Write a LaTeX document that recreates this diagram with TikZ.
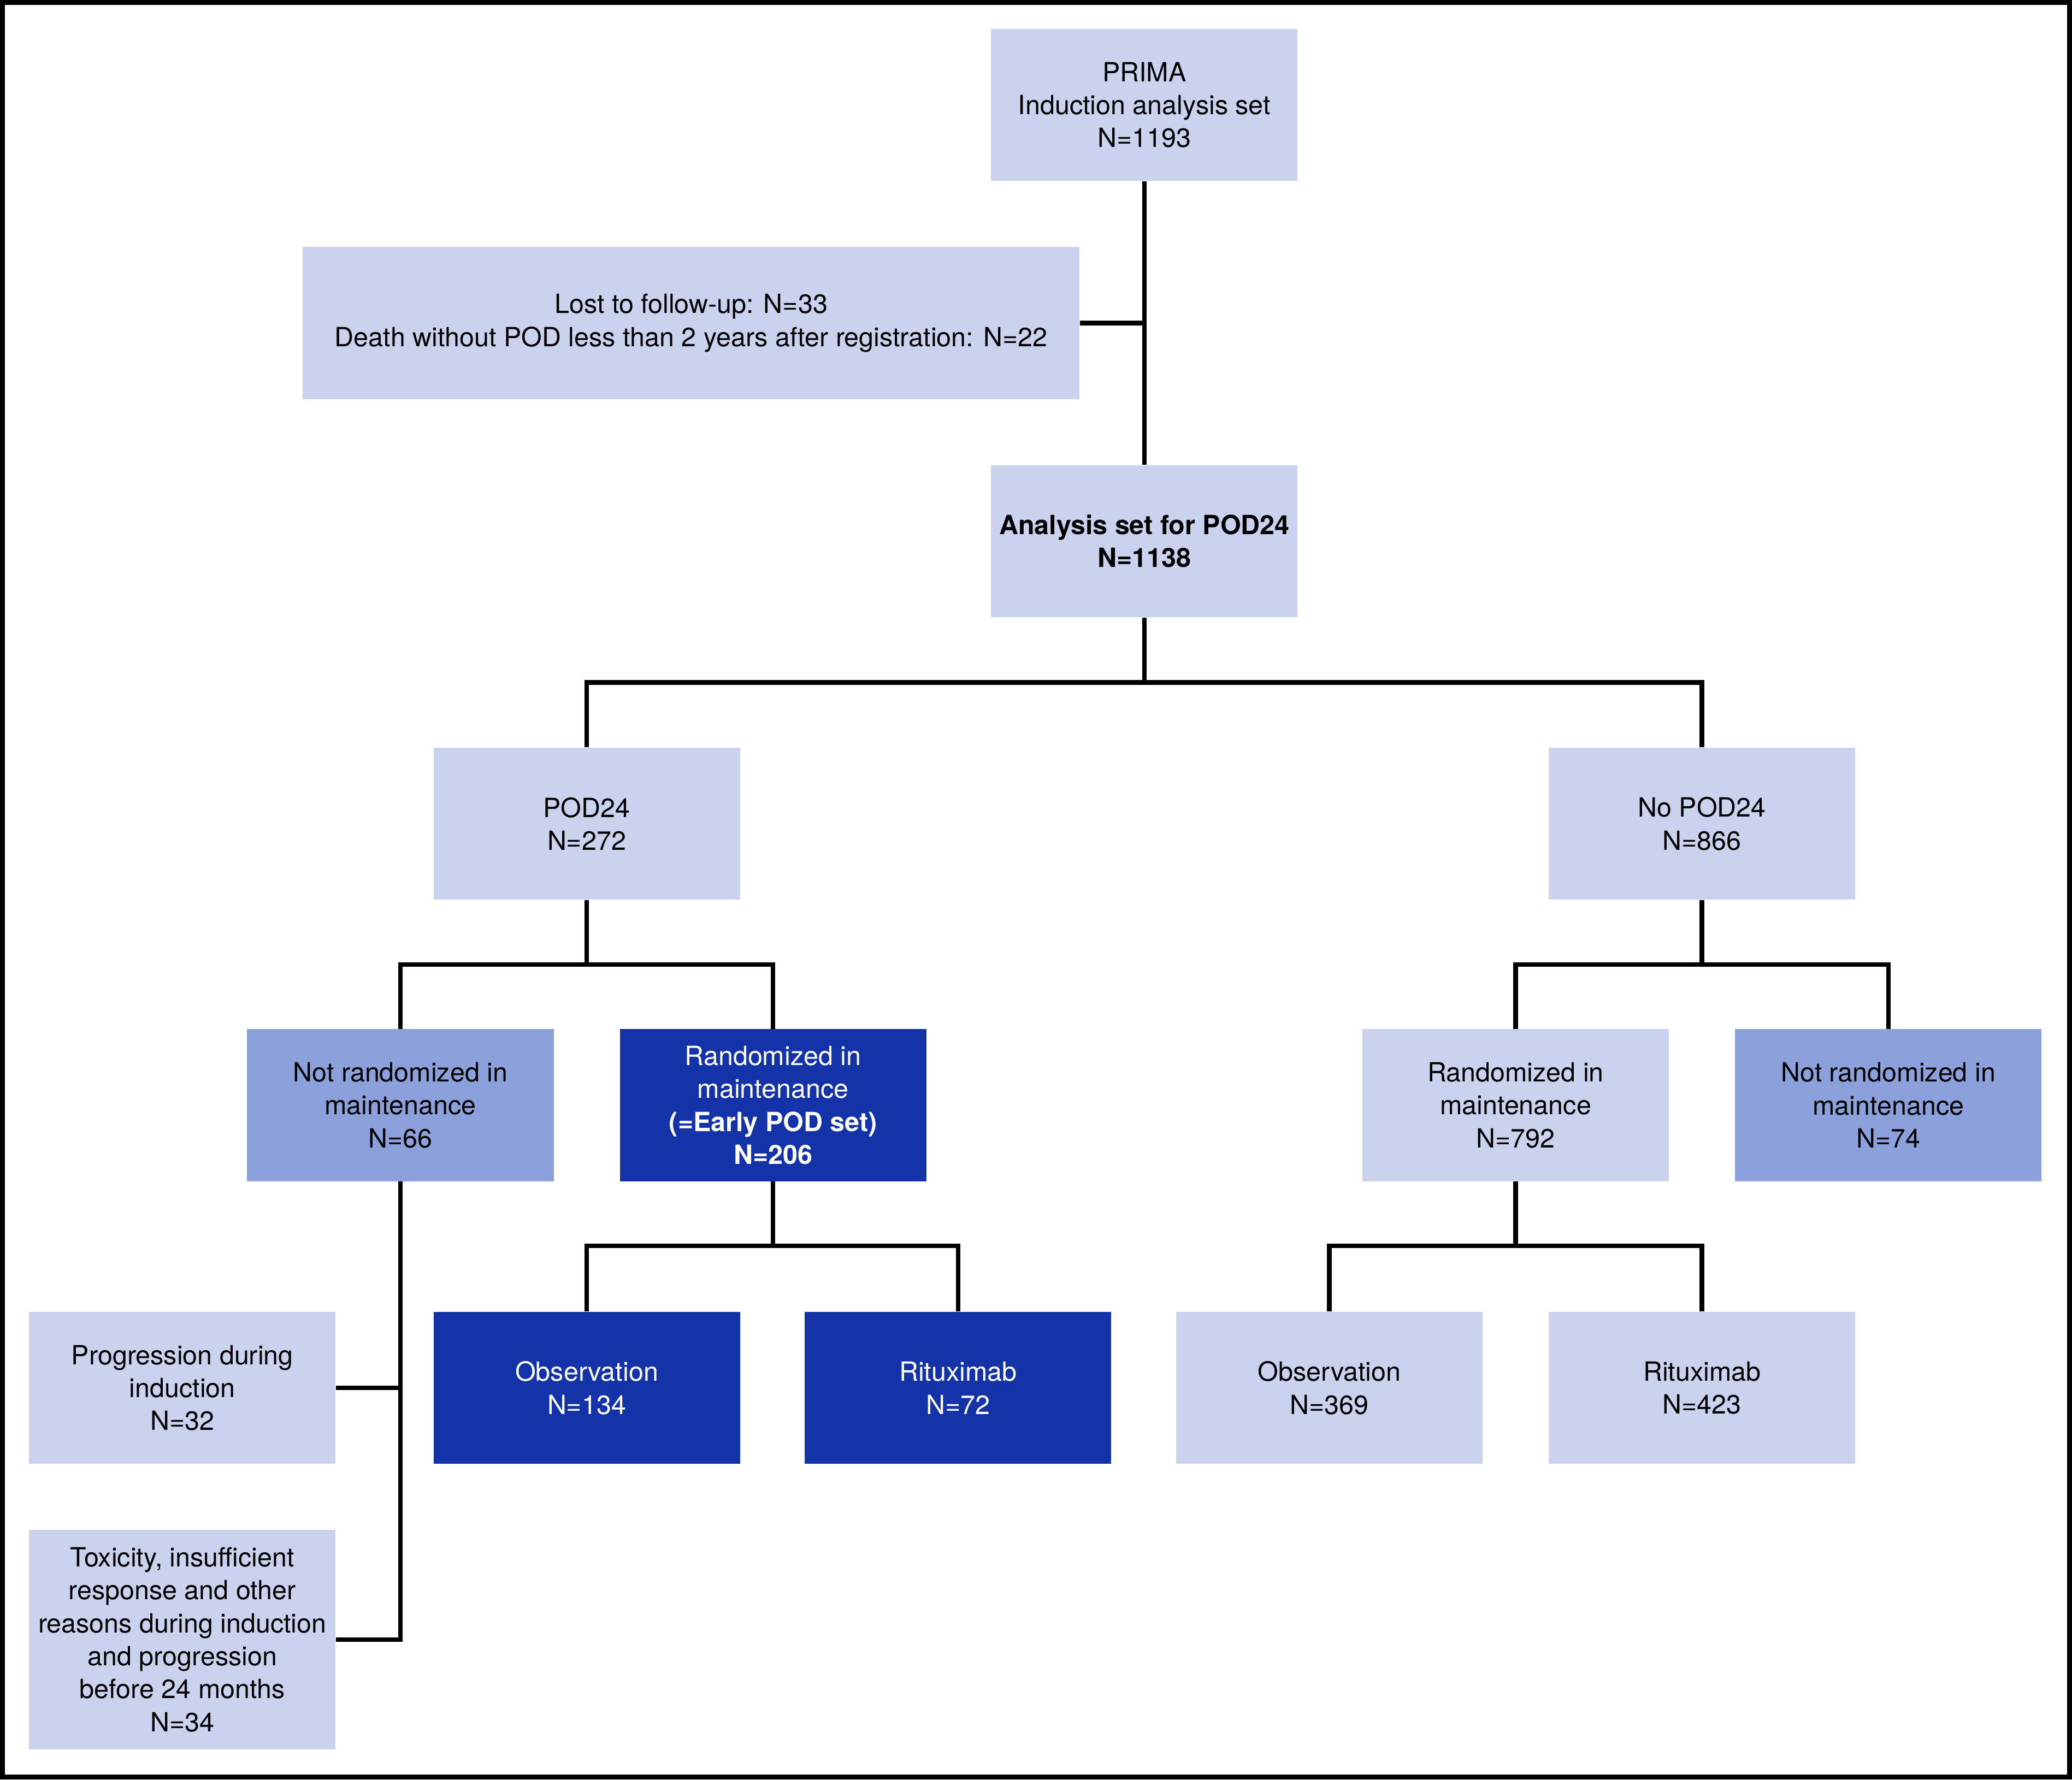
\documentclass[tikz,border=0pt]{standalone}
\usepackage{fontspec}
\setmainfont{TeX Gyre Heros}
\usepackage{tikz}
\definecolor{boxlight}{RGB}{203,210,238}
\definecolor{boxmid}{RGB}{140,160,220}
\definecolor{boxdark}{RGB}{21,51,168}
\tikzset{
	box/.style={minimum width=4.64cm, minimum height=2.3cm, inner sep=0pt, align=center, font=\fontsize{11.4}{14.2}\selectfont},
	lightbox/.style={box, fill=boxlight},
	midbox/.style={box, fill=boxmid},
	darkbox/.style={box, fill=boxdark, text=white},
	link/.style={line width=2pt},
}
\begin{document}
\begin{tikzpicture}[x=0.02cm, y=-0.02cm]
				\useasboundingbox (0,0) rectangle (1568,1347);
				\draw[line width=2.1pt] (1.9,1.9) rectangle (1566.1,1345.1);
				\node[lightbox] (prima) at (866,79.5) {PRIMA\\Induction analysis set\\N=1193};
				\node[lightbox, minimum width=11.76cm] (lost) at (523,244.5) {Lost to follow-up: N=33\\Death without POD less than 2 years after registration: N=22};
				\node[lightbox] (analysis) at (866,409.5) {\textbf{Analysis set for POD24}\\\textbf{N=1138}};
				\node[lightbox] (pod) at (444,623.5) {POD24\\N=272};
				\node[lightbox] (nopod) at (1288,623.5) {No POD24\\N=866};
				\node[midbox] (notrandL) at (303,836.5) {Not randomized in\\maintenance\\N=66};
				\node[darkbox] (randL) at (585,836.5) {Randomized in\\maintenance\\\textbf{(=Early POD set)}\\\textbf{N=206}};
				\node[lightbox] (randR) at (1147,836.5) {Randomized in\\maintenance\\N=792};
				\node[midbox] (notrandR) at (1429,836.5) {Not randomized in\\maintenance\\N=74};
				\node[darkbox] (obsL) at (444,1050.5) {Observation\\N=134};
				\node[darkbox] (ritL) at (725,1050.5) {Rituximab\\N=72};
				\node[lightbox] (obsR) at (1006,1050.5) {Observation\\N=369};
				\node[lightbox] (ritR) at (1288,1050.5) {Rituximab\\N=423};
				\node[lightbox] (prog) at (138,1050.5) {Progression during\\induction\\N=32};
				\node[lightbox, minimum height=3.32cm] (tox) at (138,1241) {Toxicity, insufficient\\response and other\\reasons during induction\\and progression\\before 24 months\\N=34};
				\coordinate (split1) at (866,516.5);
				\coordinate (split2) at (444,730);
				\coordinate (split3) at (1288,730);
				\coordinate (split4) at (585,943);
				\coordinate (split5) at (1147,943);
				\draw[link] (prima.south) -- (analysis.north);
				\draw[link] (lost.east) -- (lost.east -| prima.south);
				\draw[link] (analysis.south) -- (split1);
				\draw[link] (pod.north) |- (split1) -| (nopod.north);
				\draw[link] (pod.south) -- (split2);
				\draw[link] (notrandL.north) |- (split2) -| (randL.north);
				\draw[link] (nopod.south) -- (split3);
				\draw[link] (randR.north) |- (split3) -| (notrandR.north);
				\draw[link] (randL.south) -- (split4);
				\draw[link] (obsL.north) |- (split4) -| (ritL.north);
				\draw[link] (randR.south) -- (split5);
				\draw[link] (obsR.north) |- (split5) -| (ritR.north);
				\draw[link] (notrandL.south) |- (tox.east);
				\draw[link] (prog.east) -- (prog.east -| notrandL.south);
			\end{tikzpicture}
\end{document}
